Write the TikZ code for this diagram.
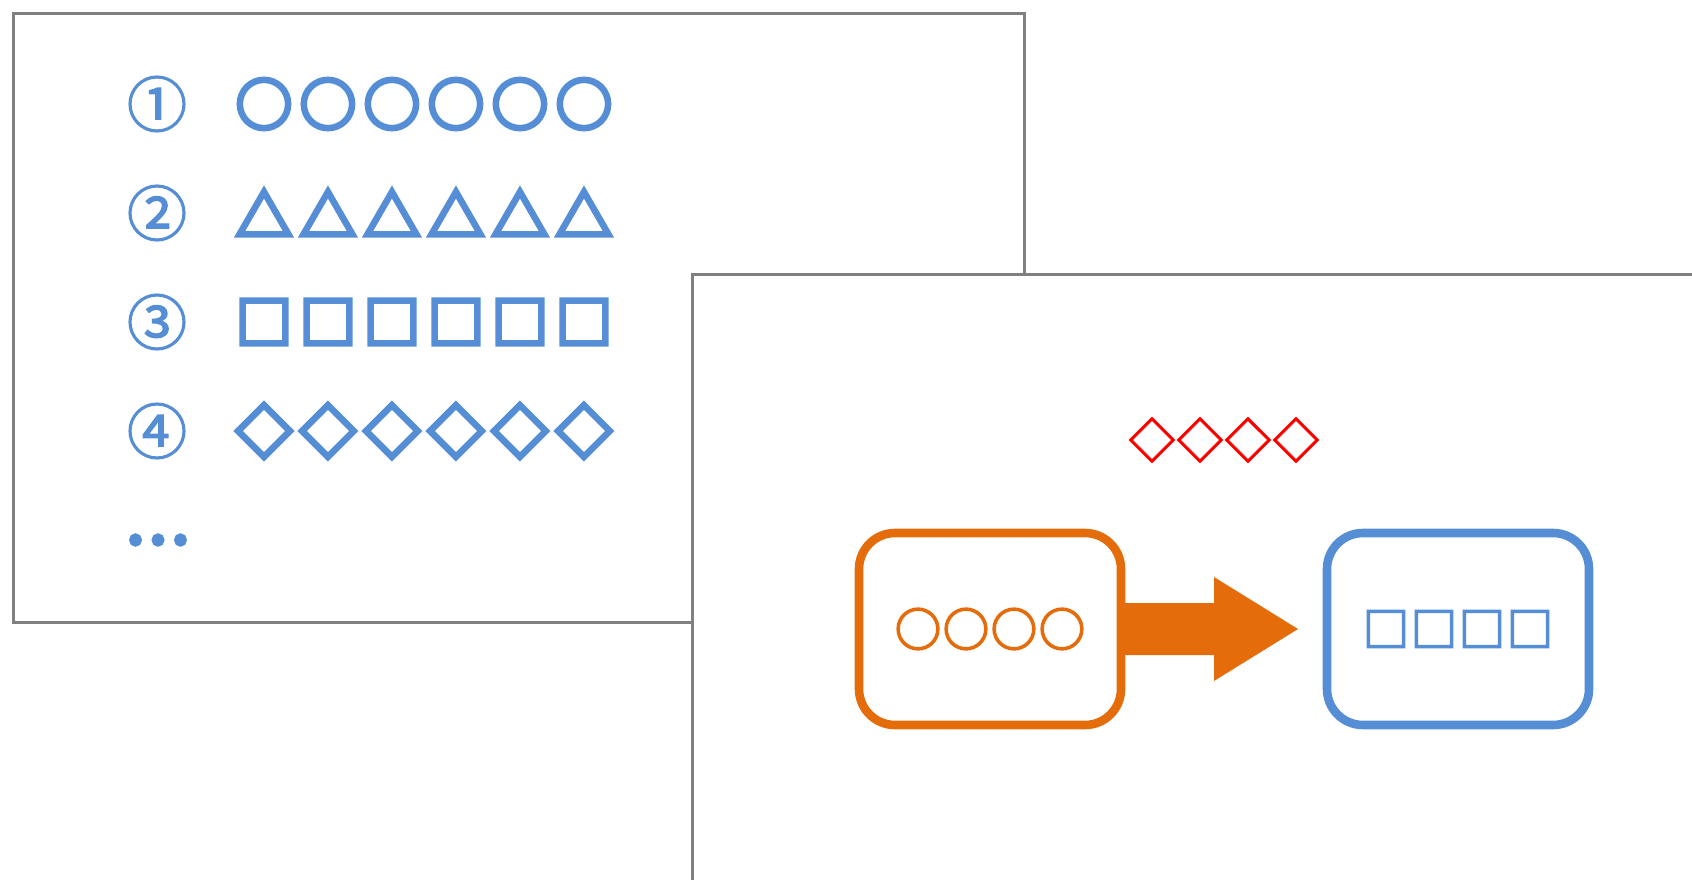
\documentclass[tikz,border=0pt]{standalone}
\usepackage{fontspec}
\newfontfamily\cjk{Noto Sans CJK JP}
\newfontfamily\cjkb[FakeBold=8]{Noto Sans CJK JP}
\newfontfamily\cjkm[FakeBold=4]{Noto Sans CJK JP}
\newfontfamily\cjkr[FakeBold=3]{Noto Sans CJK JP}
\newfontfamily\cjkn[FakeBold=2]{Noto Sans CJK JP}
\usetikzlibrary{calc}
\definecolor{myblue}{RGB}{85,142,213}
\definecolor{myorange}{RGB}{228,108,10}
\definecolor{mygray}{RGB}{128,128,128}
\definecolor{myred}{RGB}{255,0,0}
\newcommand\gsp{\kern8pt}
\tikzset{
  panel/.style={draw=mygray, line width=3pt, fill=white},
  numtxt/.style={text=myblue, inner sep=0pt, font=\cjkn\fontsize{60pt}{60pt}\selectfont},
  rowtxt/.style={text=myblue, inner sep=0pt, font=\cjkb\fontsize{56pt}{56pt}\selectfont},
  boxnode/.style={draw, line width=8.6pt, rounded corners=36pt, fill=white, minimum width=262pt, minimum height=192pt, inner sep=0pt, outer sep=0pt, font=\cjkm\fontsize{46pt}{46pt}\selectfont},
}
\begin{document}
\begin{tikzpicture}[x=1pt,y=-1pt]
\useasboundingbox (0,0) rectangle (1692,880);
\fill[white] (0,0) rectangle (1692,880);
% left panel
\node[panel, minimum width=1011pt, minimum height=609pt, inner sep=0pt, anchor=north west] (panelA) at (12,12) {};
\node[numtxt] (n1) at (157,104) {①};
\node[numtxt] (n2) at (157,213) {②};
\node[numtxt] (n3) at (157,322) {③};
\node[numtxt] (n4) at (157,431) {④};
\node[rowtxt] (r1) at (424,104) {○\gsp○\gsp○\gsp○\gsp○\gsp○};
\node[rowtxt] (r2) at (424,213) {△\gsp△\gsp△\gsp△\gsp△\gsp△};
\node[rowtxt] (r3) at (424,322) {□\gsp□\gsp□\gsp□\gsp□\gsp□};
\node[rowtxt] (r4) at (424,431) {◇\gsp◇\gsp◇\gsp◇\gsp◇\gsp◇};
\node[text=myblue, inner sep=0pt, font=\cjkb\fontsize{60pt}{60pt}\selectfont] (dots) at (157,540) {…};
% right panel
\node[panel, minimum width=1040pt, minimum height=640pt, inner sep=0pt, anchor=north west] (panelB) at (691,273) {};
\node[text=myred, inner sep=0pt, font=\cjkr\fontsize{46pt}{46pt}\selectfont] (red) at (1224,440) {◇\kern2pt◇\kern2pt◇\kern2pt◇};
\node[boxnode, draw=myorange, text=myorange] (src) at (990,629) {○\kern2pt○\kern2pt○\kern2pt○};
\node[boxnode, draw=myblue, text=myblue] (dst) at (1458,629) {□\kern2pt□\kern2pt□\kern2pt□};
\fill[myorange] ($(src.east)+(0,-26)$) -- ++(93,0) -- ++(0,-26) -- ($(dst.west)+(-29,0)$) -- ($(src.east)+(93,52)$) -- ++(0,-26) -- ($(src.east)+(0,26)$) -- cycle;
\end{tikzpicture}
\end{document}
